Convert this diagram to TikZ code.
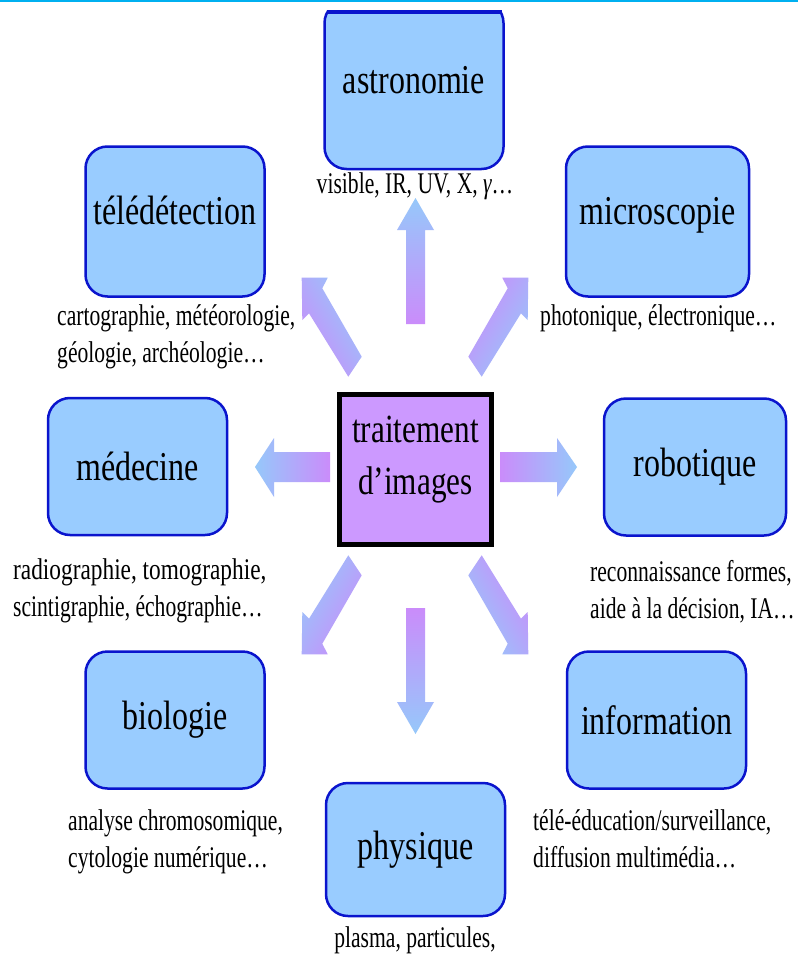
\documentclass[tikz,border=0pt]{standalone}
\usepackage{fontspec}
\setmainfont{Liberation Serif}[FakeStretch=0.78]
\newfontfamily\labelfont{Liberation Serif}[FakeStretch=0.72]
\definecolor{boxblue}{RGB}{10,20,205}
\definecolor{boxfill}{RGB}{153,204,255}
\definecolor{corefill}{RGB}{204,153,255}
\definecolor{arrpurple}{RGB}{202,140,250}
\definecolor{arrblue}{RGB}{150,200,250}
\definecolor{topline}{RGB}{0,176,240}
\tikzset{
  dombox/.style={draw=boxblue, line width=2.5pt, fill=boxfill, rounded corners=22pt,
    minimum width=179pt, minimum height=137pt, inner sep=0pt,
    font=\fontsize{41}{48}\selectfont},
  corebox/.style={draw=black, line width=5pt, fill=corefill, minimum width=152pt,
    minimum height=150pt, inner sep=0pt, align=center,
    font=\fontsize{40}{52}\selectfont},
  lbl/.style={align=left, inner sep=0pt, anchor=base west,
    font=\labelfont\fontsize{30}{37}\selectfont},
  lblc/.style={inner sep=0pt, anchor=base, font=\labelfont\fontsize{30}{37}\selectfont},
  arrowshade/.style={draw=none}
}
\begin{document}
\begin{tikzpicture}[x=1pt,y=-1pt]
\useasboundingbox (0,0) rectangle (798,971);
\fill[white] (0,0) rectangle (798,971);
\draw[topline, line width=2.5pt] (0,1) -- (798,1);

% arrows
\shade[arrowshade, top color=arrblue, bottom color=arrpurple]
  (406,324) -- (425,324) -- (425,230) -- (434,230) -- (415.5,198) -- (397,230) -- (406,230) -- cycle;
\shade[arrowshade, top color=arrpurple, bottom color=arrblue]
  (406,608) -- (425,608) -- (425,702) -- (434,702) -- (415.5,734) -- (397,702) -- (406,702) -- cycle;
\shade[arrowshade, left color=arrblue, right color=arrpurple]
  (330,452) -- (330,482) -- (274,482) -- (274,497) -- (255,467) -- (274,438) -- (274,452) -- cycle;
\shade[arrowshade, left color=arrpurple, right color=arrblue]
  (500,452) -- (500,482) -- (557,482) -- (557,497) -- (577,467) -- (557,438) -- (557,452) -- cycle;
\shade[arrowshade, left color=arrblue, right color=arrpurple, shading angle=-60]
  (301.7,277.7) -- (327.7,277.7) -- (322.3,288.3) -- (361.7,356.7) -- (348.3,376.7) -- (309,313.3) -- (302.3,320) -- cycle;
\shade[arrowshade, left color=arrpurple, right color=arrblue, shading angle=60]
  (528.3,277.7) -- (502.3,277.7) -- (507.7,288.3) -- (468.3,356.7) -- (481.7,376.7) -- (521,313.3) -- (527.7,320) -- cycle;
\shade[arrowshade, left color=arrblue, right color=arrpurple, shading angle=60]
  (301.7,654.3) -- (327.7,654.3) -- (322.3,643.7) -- (361.7,575.3) -- (348.3,555.3) -- (309,618.7) -- (302.3,612) -- cycle;
\shade[arrowshade, left color=arrpurple, right color=arrblue, shading angle=-60]
  (528.3,654.3) -- (502.3,654.3) -- (507.7,643.7) -- (468.3,575.3) -- (481.7,555.3) -- (521,618.7) -- (527.7,612) -- cycle;

% boxes
\begin{scope}
\clip (0,11) rectangle (798,971);
\node[dombox, minimum width=179pt, minimum height=168pt] (astro) at (414,85) {\smash{\raisebox{-9pt}{astronomie}}};
\end{scope}
\draw[boxblue, line width=4pt] (326.5,12) -- (501.5,12);
\node[dombox, minimum height=150pt] (tele) at (175,221.5) {\smash{\raisebox{-3pt}{télédétection}}};
\node[dombox, minimum width=183pt, minimum height=150pt] (micro) at (657.5,221.5) {\smash{\raisebox{-3pt}{microscopie}}};
\node[dombox] (med) at (137.5,466.5) {médecine};
\node[dombox, minimum width=182pt] (robo) at (695,467) {robotique};
\node[dombox] (bio) at (175,720) {biologie};
\node[dombox] (info) at (656.5,720) {information};
\node[dombox, minimum height=133pt] (phys) at (415.5,849.5) {physique};
\node[corebox] (ti) at (415.5,469.5) {\smash{\raisebox{5pt}{\begin{tabular}{@{}c@{}}traitement\\d’images\end{tabular}}}};

% labels
\node[lblc] (lastro) at (415,193) {visible, IR, UV, X, {\itshape γ}…};
\node[lbl] (ltele) at (57,362) {cartographie, météorologie,\\géologie, archéologie…};
\node[lbl] (lmicro) at (540,325) {photonique, électronique…};
\node[lbl] (lmed) at (13,616) {\scalebox{1.08}[1]{radiographie, tomographie,}\\scintigraphie, échographie…};
\node[lbl] (lrobo) at (590,618) {reconnaissance formes,\\aide à la décision, IA…};
\node[lbl] (lbio) at (68,867) {analyse chromosomique,\\cytologie numérique…};
\node[lbl] (linfo) at (533,867) {télé-éducation/surveillance,\\diffusion multimédia…};
\node[lblc] (lphys) at (415,947) {plasma, particules,};
\end{tikzpicture}
\end{document}
